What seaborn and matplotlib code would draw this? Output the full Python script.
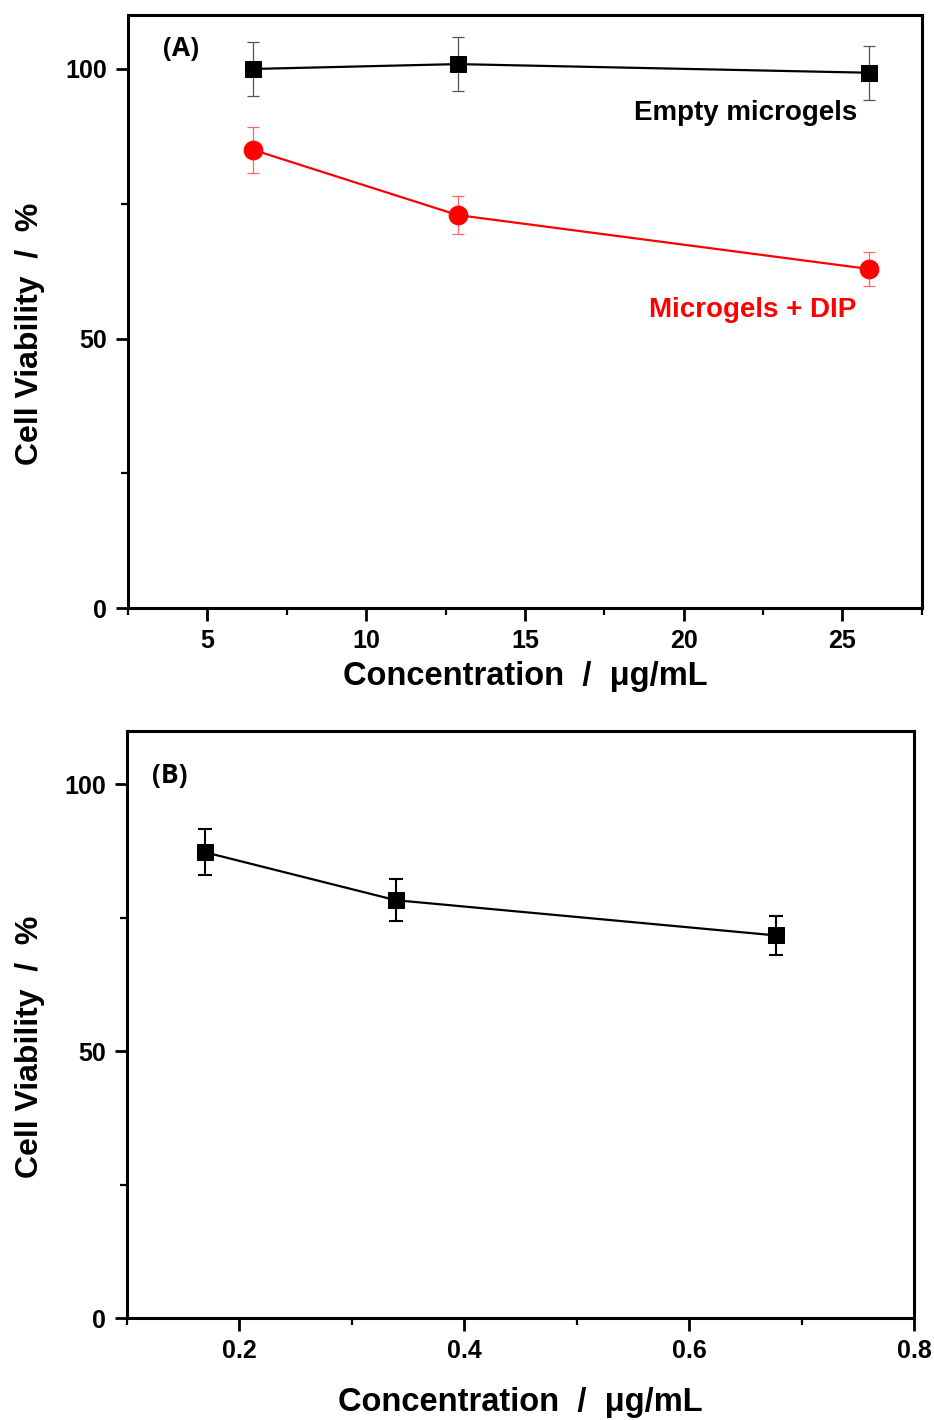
import matplotlib
matplotlib.use("Agg")
import matplotlib.pyplot as plt
import seaborn as sns
import pandas as pd
from matplotlib.ticker import MultipleLocator

# ---- data ----
conc_a = [6.44, 12.88, 25.83]
empty_vals = [100.0, 100.9, 99.3]
empty_err = [5.0, 5.0, 5.0]
dip_vals = [85.0, 72.9, 62.9]
dip_err = [4.3, 3.6, 3.2]

conc_b = [0.169, 0.339, 0.677]
b_vals = [87.3, 78.3, 71.7]
b_err = [4.3, 3.9, 3.7]

sns.set_theme(style="ticks")
plt.rcParams['font.family'] = ['Liberation Sans', 'DejaVu Sans']

fig = plt.figure(figsize=(9.34, 14.2), dpi=100)
axA = fig.add_axes([0.137, 0.5718, 0.850, 0.4176])
axB = fig.add_axes([0.136, 0.0718, 0.8426, 0.4134])

dfA1 = pd.DataFrame({"x": conc_a, "y": empty_vals})
dfA2 = pd.DataFrame({"x": conc_a, "y": dip_vals})
dfB = pd.DataFrame({"x": conc_b, "y": b_vals})

# Panel A
axA.errorbar(conc_a, empty_vals, yerr=empty_err, fmt='none', ecolor='#555555',
             elinewidth=0.9, capsize=4, capthick=0.9, zorder=2)
axA.errorbar(conc_a, dip_vals, yerr=dip_err, fmt='none', ecolor='#ff6666',
             elinewidth=0.9, capsize=4, capthick=0.9, zorder=2)
sns.lineplot(data=dfA1, x="x", y="y", ax=axA, color='black', marker='s',
             markersize=12, markeredgecolor='black', linewidth=1.6, zorder=3)
sns.lineplot(data=dfA2, x="x", y="y", ax=axA, color='red', marker='o',
             markersize=13.5, markeredgecolor='red', linewidth=1.6, zorder=3)

# Panel B
axB.errorbar(conc_b, b_vals, yerr=b_err, fmt='none', ecolor='black',
             elinewidth=1.5, capsize=4.7, capthick=1.5, zorder=2)
sns.lineplot(data=dfB, x="x", y="y", ax=axB, color='black', marker='s',
             markersize=12, markeredgecolor='black', linewidth=1.6, zorder=3)

axA.set_xlim(2.5, 27.5)
axA.set_ylim(0, 110)
axA.xaxis.set_major_locator(MultipleLocator(5))
axA.xaxis.set_minor_locator(MultipleLocator(2.5))
axB.set_xlim(0.1, 0.8)
axB.set_ylim(0, 110)
axB.xaxis.set_major_locator(MultipleLocator(0.2))
axB.xaxis.set_minor_locator(MultipleLocator(0.1))

for ax in (axA, axB):
    ax.yaxis.set_major_locator(MultipleLocator(50))
    ax.yaxis.set_minor_locator(MultipleLocator(25))
    for s in ax.spines.values():
        s.set_linewidth(2.2)
        s.set_color('black')
    ax.tick_params(which='major', direction='out', length=9, width=2, color='black',
                   top=False, right=False, pad=6)
    ax.tick_params(which='minor', direction='out', length=5, width=1.6, color='black',
                   top=False, right=False)
    for lab in ax.get_xticklabels() + ax.get_yticklabels():
        lab.set_fontweight('bold')
        lab.set_fontsize(18)
        lab.set_color('black')
    ax.set_ylabel("Cell Viability  /  %", fontsize=23, fontweight='bold', color='black')
    ax.yaxis.set_label_coords(-0.104, 0.462)

axA.set_xlabel("Concentration  /  \u03bcg/mL", fontsize=23.5, fontweight='bold',
               color='black', labelpad=6)
axB.set_xlabel("Concentration  /  \u03bcg/mL", fontsize=23.5, fontweight='bold',
               color='black', labelpad=17.5)

axA.text(0.044, 0.943, "(A)", transform=axA.transAxes, fontsize=19, fontweight='bold',
         family=['Open Sans', 'DejaVu Sans'], color='black', va='center')
axB.text(0.032, 0.925, "(B)", transform=axB.transAxes, fontsize=19, fontweight='bold',
         family=['Open Sans', 'DejaVu Sans'], color='black', va='center')

axA.text(25.45, 91.9, "Empty microgels", fontsize=20, fontweight='bold', color='black',
         ha='right', va='center')
axA.text(25.45, 55.2, "Microgels + DIP", fontsize=20, fontweight='bold', color='red',
         ha='right', va='center')

fig.savefig("out.png", dpi=100)
